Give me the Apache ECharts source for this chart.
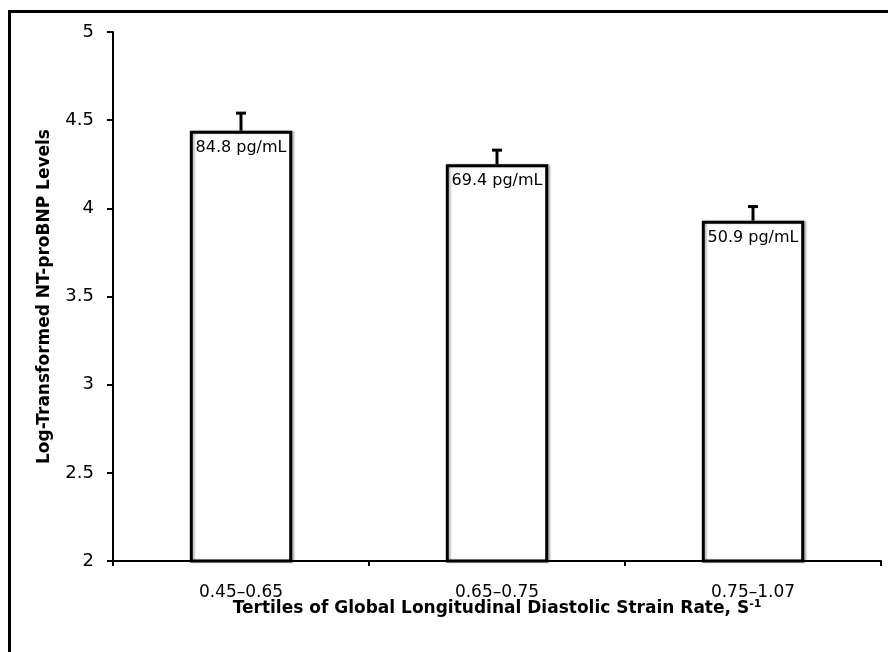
<!DOCTYPE html>
<html>
<head>
<meta charset="utf-8">
<script src="https://cdn.jsdelivr.net/npm/echarts@6/dist/echarts.min.js"></script>
<style>
  html, body { margin: 0; padding: 0; background: #fff; }
  #main { width: 888px; height: 652px; }
</style>
</head>
<body>
<div id="main"></div>
<script>
// tertile categories and values
const categories = ['0.45–0.65', '0.65–0.75', '0.75–1.07']
const means = [4.44, 4.25, 3.93]
const errTops = [4.54, 4.33, 4.01]
const barLabels = ['84.8 pg/mL', '69.4 pg/mL', '50.9 pg/mL']

const FONT = 'DejaVu Sans'

const chart = echarts.init(document.getElementById('main'))

const option = {
  backgroundColor: '#fff',
  animation: false,
  graphic: [
    {
      // outer frame, cropped at right and bottom
      type: 'rect',
      shape: { x: 9.5, y: 11.5, width: 950, height: 700 },
      style: { fill: 'none', stroke: '#000', lineWidth: 3 },
      silent: true
    }
  ],
  grid: { left: 113, right: 7, top: 32, bottom: 91 },
  xAxis: {
    type: 'category',
    data: categories,
    axisLine: { lineStyle: { color: '#000', width: 2 } },
    axisTick: { show: true, length: 5, lineStyle: { color: '#000', width: 2 } },
    axisLabel: { color: '#000', fontFamily: FONT, fontSize: 17, margin: 23 },
    name: '{t|Tertiles of Global Longitudinal Diastolic Strain Rate, S}{s|-1}',
    nameLocation: 'middle',
    nameGap: 38,
    nameMoveOverlap: false,
    nameTextStyle: {
      rich: {
        t: { fontFamily: FONT, fontWeight: 'bold', fontSize: 17, color: '#000' },
        s: { fontFamily: FONT, fontWeight: 'bold', fontSize: 11, color: '#000', verticalAlign: 'top', padding: [0, 0, 9, 0] }
      }
    }
  },
  yAxis: {
    type: 'value',
    min: 2,
    max: 5,
    interval: 0.5,
    splitLine: { show: false },
    axisLine: { show: true, lineStyle: { color: '#000', width: 2 } },
    axisTick: { show: true, length: 6, lineStyle: { color: '#000', width: 2 } },
    axisLabel: { color: '#000', fontFamily: FONT, fontSize: 18, margin: 19 },
    name: 'Log-Transformed NT-proBNP Levels',
    nameLocation: 'middle',
    nameGap: 60,
    nameMoveOverlap: false,
    nameTextStyle: { fontFamily: FONT, fontWeight: 'bold', fontSize: 17, color: '#000' }
  },
  series: [
    {
      type: 'bar',
      data: means,
      barWidth: '40%',
      itemStyle: {
        color: '#fff',
        borderColor: '#000',
        borderWidth: 3,
        shadowColor: 'rgba(0,0,0,0.25)',
        shadowOffsetX: 2,
        shadowBlur: 2
      },
      label: {
        show: true,
        position: 'insideTop',
        distance: 9,
        color: '#000',
        fontFamily: FONT,
        fontSize: 16,
        formatter: p => barLabels[p.dataIndex]
      },
      z: 2
    },
    {
      // upper error bars
      type: 'custom',
      data: means.map((m, i) => [i, m, errTops[i]]),
      renderItem: function(params, api) {
        const base = api.coord([api.value(0), api.value(1)])
        const top = api.coord([api.value(0), api.value(2)])
        const halfCap = 5
        return {
          type: 'group',
          children: [
            {
              type: 'line',
              shape: { x1: base[0], y1: base[1], x2: top[0], y2: top[1] },
              style: { stroke: '#000', lineWidth: 3 }
            },
            {
              type: 'line',
              shape: { x1: top[0] - halfCap, y1: top[1], x2: top[0] + halfCap, y2: top[1] },
              style: { stroke: '#000', lineWidth: 3 }
            }
          ]
        }
      },
      z: 3
    }
  ]
}

chart.setOption(option)
</script>
</body>
</html>
